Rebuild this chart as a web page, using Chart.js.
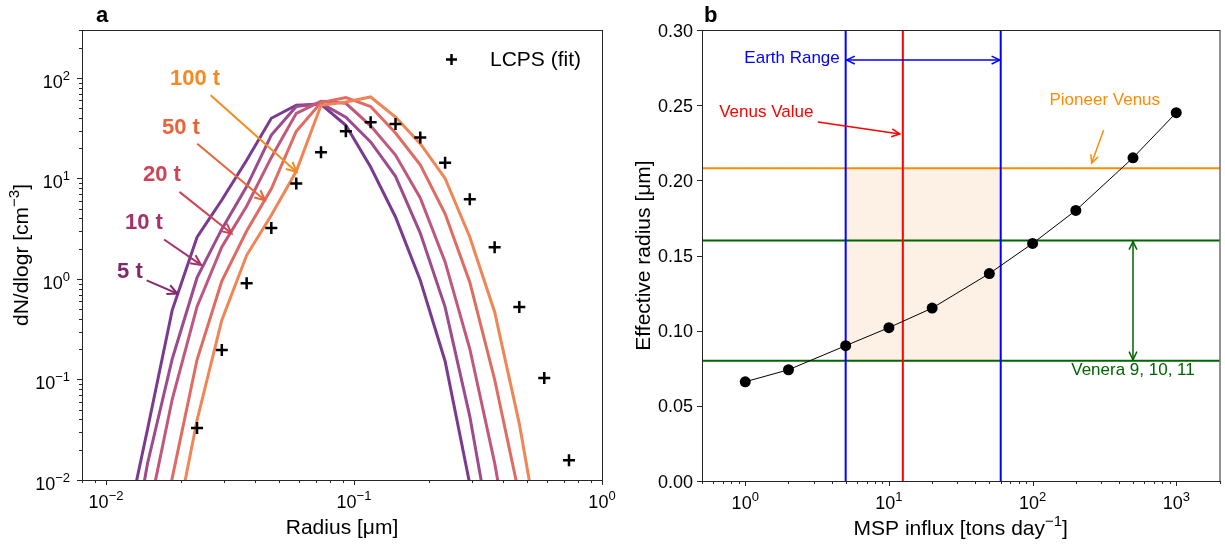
<!DOCTYPE html>
<html>
<head>
<meta charset="utf-8">
<script src="https://cdn.jsdelivr.net/npm/chart.js@4.4.0/dist/chart.umd.min.js"></script>
<style>
  body { margin: 0; background: #fff; }
  #wrap { position: relative; width: 1225px; height: 546px; }
  canvas { position: absolute; top: 0; }
  #chart-a { left: 0; }
  #chart-b { left: 612px; }
</style>
</head>
<body>
<div id="wrap">
  <canvas id="chart-a" width="640" height="546"></canvas>
  <canvas id="chart-b" width="613" height="546"></canvas>
</div>
<script>
// ---------- panel a: particle size distributions ----------
const radiusBins = [0.01167, 0.0147, 0.01849, 0.02328, 0.0293, 0.0369, 0.0464, 0.0585, 0.0736,
  0.0927, 0.1167, 0.147, 0.185, 0.233, 0.293, 0.369, 0.464, 0.585];
const dist5t   = [0.0022, 0.032, 0.49, 2.6, 6.1, 15.2, 39.7, 53.5, 54.7, 33.8, 13.0, 4.14, 0.97, 0.152, 0.0091, 0.0006, null, null];
const dist10t  = [0.0006, 0.0146, 0.16, 1.03, 3.13, 8.3, 27, 52, 56, 40.6, 23.1, 10.5, 2.86, 0.525, 0.043, 0.00175, null, null];
const dist20t  = [null, 0.0041, 0.0635, 0.53, 2.08, 5.3, 16.2, 44.5, 58.6, 56, 33.4, 17.1, 6.4, 1.48, 0.202, 0.0148, 0.0006, null];
const dist50t  = [null, 0.0005, 0.0105, 0.157, 0.955, 3.0, 7.9, 29.5, 57, 64, 52, 28.3, 13.7, 4.45, 0.93, 0.1, 0.007, null];
const dist100t = [null, null, 0.0022, 0.0393, 0.389, 1.72, 4.3, 11.8, 53.5, 57.7, 64.7, 40.9, 22.2, 10.0, 2.62, 0.47, 0.0364, 0.0014];

const lcpsRadius = [0.02328, 0.0293, 0.0369, 0.0464, 0.0585, 0.0736, 0.0927, 0.1167, 0.147, 0.185,
  0.233, 0.293, 0.369, 0.464, 0.585, 0.736];
const lcpsFit = [0.0329, 0.197, 0.906, 3.21, 8.9, 18.2, 29.5, 36.3, 34.9, 25.5, 14.3, 6.2, 2.07, 0.526, 0.1035, 0.0157];

const influxLabels = ['5 t', '10 t', '20 t', '50 t', '100 t'];
const lineColors   = ['#7a3b8f', '#9d4a8f', '#c1577d', '#df6b63', '#f08555'];
const labelColors  = ['#82296d', '#a6306a', '#cc4455', '#e8643a', '#f78a1e'];
// label position, arrow start, arrow end  (data coordinates)
const labelPos   = [[0.01248, 1.18], [0.01422, 3.58], [0.0168, 10.8], [0.02005, 31.9], [0.02286, 97]];
const arrowStart = [[0.01459, 0.97], [0.01714, 2.47], [0.01977, 7.35], [0.02333, 22.2], [0.02642, 67.3]];
const arrowEnd   = [[0.0194, 0.716], [0.02415, 1.38], [0.0321, 2.83], [0.04375, 6.07], [0.0587, 11.6]];

// ---------- panel b: effective radius vs MSP influx ----------
const mspInflux = [1, 2, 5, 10, 20, 50, 100, 200, 500, 1000];
const effRadius = [0.066, 0.074, 0.090, 0.102, 0.115, 0.138, 0.158, 0.180, 0.215, 0.245];
const earthRange = [5, 60];
const venusValue = 12.5;
const pioneerVenus = 0.208;
const veneraRange = [0.08, 0.16];
const radiusTicks = [0, 0.05, 0.10, 0.15, 0.20, 0.25, 0.30];

const FONT = '"Liberation Sans", Arial, sans-serif';

function logTicks(min, max) {
  const major = [], minor = [];
  for (let e = Math.floor(Math.log10(min)); e <= Math.ceil(Math.log10(max)); e++) {
    for (let m = 1; m < 10; m++) {
      const v = m * Math.pow(10, e);
      if (v < min * 0.9999 || v > max * 1.0001) continue;
      (m === 1 ? major : minor).push(v);
    }
  }
  return { major, minor };
}

// draw a run of text segments, some of them superscript; x is the centre
function drawRich(ctx, parts, x, y, size, align) {
  const supSize = Math.round(size * 0.72);
  let total = 0;
  const widths = parts.map(p => {
    ctx.font = `${p.sup ? supSize : size}px ${FONT}`;
    const w = ctx.measureText(p.t).width;
    total += w;
    return w;
  });
  let cx = align === 'right' ? x - total : x - total / 2;
  ctx.textAlign = 'left';
  ctx.textBaseline = 'alphabetic';
  parts.forEach((p, i) => {
    ctx.font = `${p.sup ? supSize : size}px ${FONT}`;
    ctx.fillText(p.t, cx, p.sup ? y - size * 0.45 : y);
    cx += widths[i];
  });
}

function powParts(v) {
  const e = Math.round(Math.log10(v));
  return [{ t: '10' }, { t: e < 0 ? '\u2212' + (-e) : String(e), sup: true }];
}

function arrow(ctx, x1, y1, x2, y2, head, both) {
  ctx.beginPath();
  ctx.moveTo(x1, y1);
  ctx.lineTo(x2, y2);
  ctx.stroke();
  const tip = (xa, ya, xb, yb) => {
    const ang = Math.atan2(yb - ya, xb - xa);
    ctx.beginPath();
    ctx.moveTo(xb - head * Math.cos(ang - 0.45), yb - head * Math.sin(ang - 0.45));
    ctx.lineTo(xb, yb);
    ctx.lineTo(xb - head * Math.cos(ang + 0.45), yb - head * Math.sin(ang + 0.45));
    ctx.stroke();
  };
  tip(x1, y1, x2, y2);
  if (both) tip(x2, y2, x1, y1);
}

// box, ticks, tick labels, axis titles and panel letter
const framePlugin = {
  id: 'frame',
  afterDraw(chart, args, o) {
    const { ctx, chartArea: a, scales } = chart;
    const xs = scales.x, ys = scales.y;
    ctx.save();
    ctx.strokeStyle = '#262626';
    ctx.fillStyle = '#000';
    ctx.lineWidth = 1;
    ctx.strokeRect(a.left + 0.5, a.top + 0.5, a.right - a.left, a.bottom - a.top);

    const xt = logTicks(xs.min, xs.max);
    ctx.beginPath();
    xt.major.forEach(v => { const p = Math.round(xs.getPixelForValue(v)) + 0.5; ctx.moveTo(p, a.bottom); ctx.lineTo(p, a.bottom + 5); });
    xt.minor.forEach(v => { const p = Math.round(xs.getPixelForValue(v)) + 0.5; ctx.moveTo(p, a.bottom); ctx.lineTo(p, a.bottom + 3); });
    let yt;
    if (o.yLog) {
      yt = logTicks(ys.min, ys.max);
      yt.minor.forEach(v => { const p = Math.round(ys.getPixelForValue(v)) + 0.5; ctx.moveTo(a.left, p); ctx.lineTo(a.left - 3, p); });
    } else {
      yt = { major: o.yTicks };
    }
    yt.major.forEach(v => { const p = Math.round(ys.getPixelForValue(v)) + 0.5; ctx.moveTo(a.left, p); ctx.lineTo(a.left - 5, p); });
    ctx.stroke();

    xt.major.forEach(v => drawRich(ctx, powParts(v), xs.getPixelForValue(v), a.bottom + 28, 18, 'center'));
    yt.major.forEach(v => {
      const p = ys.getPixelForValue(v);
      if (o.yLog) drawRich(ctx, powParts(v), a.left - 12, p + 10, 18, 'right');
      else drawRich(ctx, [{ t: v.toFixed(2) }], a.left - 9, p + 6.5, 18, 'right');
    });

    drawRich(ctx, o.xTitle, (a.left + a.right) / 2, a.bottom + 54, 21, 'center');
    ctx.save();
    ctx.translate(o.yTitleX, (a.top + a.bottom) / 2);
    ctx.rotate(-Math.PI / 2);
    drawRich(ctx, o.yTitle, 0, 8, 21, 'center');
    ctx.restore();

    ctx.font = `bold 22px ${FONT}`;
    ctx.textAlign = 'left';
    ctx.fillText(o.letter, o.letterX, 22);
    ctx.restore();
  }
};

// ---------- panel a annotations ----------
const labelsPlugin = {
  id: 'influxLabels',
  afterDatasetsDraw(chart) {
    const { ctx, scales: { x, y } } = chart;
    ctx.save();
    influxLabels.forEach((txt, i) => {
      ctx.fillStyle = labelColors[i];
      ctx.strokeStyle = labelColors[i];
      ctx.lineWidth = 2;
      ctx.font = `bold 22px ${FONT}`;
      ctx.textAlign = 'center';
      ctx.textBaseline = 'middle';
      ctx.fillText(txt, x.getPixelForValue(labelPos[i][0]), y.getPixelForValue(labelPos[i][1]));
      arrow(ctx, x.getPixelForValue(arrowStart[i][0]), y.getPixelForValue(arrowStart[i][1]),
        x.getPixelForValue(arrowEnd[i][0]), y.getPixelForValue(arrowEnd[i][1]), 11, false);
    });
    // legend
    ctx.strokeStyle = '#000';
    ctx.lineWidth = 2.5;
    ctx.beginPath();
    ctx.moveTo(446, 59.5); ctx.lineTo(457, 59.5);
    ctx.moveTo(451.5, 54); ctx.lineTo(451.5, 65);
    ctx.stroke();
    ctx.fillStyle = '#000';
    ctx.font = `21px ${FONT}`;
    ctx.textAlign = 'left';
    ctx.textBaseline = 'middle';
    ctx.fillText('LCPS (fit)', 490, 60);
    ctx.restore();
  }
};

const seriesA = [dist5t, dist10t, dist20t, dist50t, dist100t];
const datasetsA = [{
  label: 'LCPS (fit)',
  type: 'scatter',
  data: lcpsRadius.map((r, i) => ({ x: r, y: lcpsFit[i] })),
  pointStyle: 'cross',
  pointRadius: 6,
  borderWidth: 2.5,
  borderColor: '#000',
  order: 0
}].concat(seriesA.map((s, i) => ({
  label: influxLabels[i],
  data: radiusBins.map((r, j) => ({ x: r, y: s[j] })),
  borderColor: lineColors[i],
  borderWidth: 3,
  pointRadius: 0,
  tension: 0,
  order: 5 - i
})));

const hiddenAxis = (size, key) => ({
  display: true,
  ticks: { display: false },
  grid: { display: false },
  border: { display: false },
  afterFit(s) { s[key] = size; }
});

new Chart(document.getElementById('chart-a'), {
  type: 'line',
  data: { datasets: datasetsA },
  options: {
    responsive: false,
    animation: false,
    layout: { padding: { left: 0, right: 38, top: 30, bottom: 0 } },
    plugins: {
      legend: { display: false },
      tooltip: { enabled: false },
      frame: {
        yLog: true,
        xTitle: [{ t: 'Radius [\u03bcm]' }],
        yTitle: [{ t: 'dN/dlogr [cm' }, { t: '\u22123', sup: true }, { t: ']' }],
        yTitleX: 20,
        letter: 'a',
        letterX: 96
      }
    },
    scales: {
      x: Object.assign({ type: 'logarithmic', min: 0.008, max: 1, bounds: 'data' }, hiddenAxis(66, 'height')),
      y: Object.assign({ type: 'logarithmic', min: 0.01, max: 300, bounds: 'data' }, hiddenAxis(82, 'width'))
    }
  },
  plugins: [labelsPlugin, framePlugin]
});

// ---------- panel b annotations ----------
const refPlugin = {
  id: 'refLines',
  beforeDatasetsDraw(chart) {
    const { ctx, chartArea: a, scales: { x, y } } = chart;
    ctx.save();
    // overlap of Earth range and observed radii
    ctx.fillStyle = '#fdf0e4';
    const x0 = x.getPixelForValue(earthRange[0]), x1 = x.getPixelForValue(earthRange[1]);
    const y0 = y.getPixelForValue(pioneerVenus), y1 = y.getPixelForValue(veneraRange[0]);
    ctx.fillRect(x0, y0, x1 - x0, y1 - y0);

    ctx.lineWidth = 2;
    const hline = (v, c) => { ctx.strokeStyle = c; ctx.beginPath(); const p = y.getPixelForValue(v); ctx.moveTo(a.left, p); ctx.lineTo(a.right, p); ctx.stroke(); };
    const vline = (v, c) => { ctx.strokeStyle = c; ctx.beginPath(); const p = x.getPixelForValue(v); ctx.moveTo(p, a.top); ctx.lineTo(p, a.bottom); ctx.stroke(); };
    hline(pioneerVenus, '#ff8c00');
    hline(veneraRange[0], '#006400');
    hline(veneraRange[1], '#006400');
    vline(earthRange[0], '#0000ff');
    vline(earthRange[1], '#0000ff');
    vline(venusValue, '#ff0000');
    ctx.restore();
  },
  afterDatasetsDraw(chart) {
    const { ctx, scales: { x, y } } = chart;
    const px = v => x.getPixelForValue(v), py = v => y.getPixelForValue(v);
    ctx.save();
    ctx.lineWidth = 1.5;
    ctx.font = `17px ${FONT}`;
    ctx.textBaseline = 'middle';

    ctx.strokeStyle = ctx.fillStyle = '#0000ff';
    arrow(ctx, px(earthRange[0]) + 1, py(0.28), px(earthRange[1]) - 1, py(0.28), 9, true);
    ctx.textAlign = 'right';
    ctx.fillText('Earth Range', px(4.55), py(0.2813));

    ctx.strokeStyle = ctx.fillStyle = '#ff0000';
    ctx.textAlign = 'center';
    ctx.fillText('Venus Value', px(1.40), py(0.2455));
    arrow(ctx, px(3.2), py(0.2388), px(11.9), py(0.2308), 9, false);

    ctx.strokeStyle = ctx.fillStyle = '#ff8c00';
    ctx.fillText('Pioneer Venus', px(318), py(0.2534));
    arrow(ctx, px(312), py(0.2335), px(258), py(0.2115), 9, false);

    ctx.strokeStyle = ctx.fillStyle = '#006400';
    arrow(ctx, px(500), py(veneraRange[1]) + 1, px(500), py(veneraRange[0]) - 1, 9, true);
    ctx.fillText('Venera 9, 10, 11', px(500), py(0.0738));
    ctx.restore();
  }
};

new Chart(document.getElementById('chart-b'), {
  type: 'line',
  data: {
    datasets: [{
      label: 'Effective radius',
      data: mspInflux.map((m, i) => ({ x: m, y: effRadius[i] })),
      borderColor: '#000',
      backgroundColor: '#000',
      borderWidth: 1,
      pointRadius: 5.5,
      pointBorderWidth: 0,
      tension: 0
    }]
  },
  options: {
    responsive: false,
    animation: false,
    layout: { padding: { left: 0, right: 4, top: 30, bottom: 0 } },
    plugins: {
      legend: { display: false },
      tooltip: { enabled: false },
      frame: {
        yLog: false,
        yTicks: radiusTicks,
        xTitle: [{ t: 'MSP influx [tons day' }, { t: '\u22121', sup: true }, { t: ']' }],
        yTitle: [{ t: 'Effective radius [\u03bcm]' }],
        yTitleX: 30,
        letter: 'b',
        letterX: 92
      }
    },
    scales: {
      x: Object.assign({ type: 'logarithmic', min: 0.5, max: 2000, bounds: 'data' }, hiddenAxis(65, 'height')),
      y: Object.assign({ type: 'linear', min: 0, max: 0.3 }, hiddenAxis(90, 'width'))
    }
  },
  plugins: [refPlugin, framePlugin]
});
</script>
</body>
</html>
